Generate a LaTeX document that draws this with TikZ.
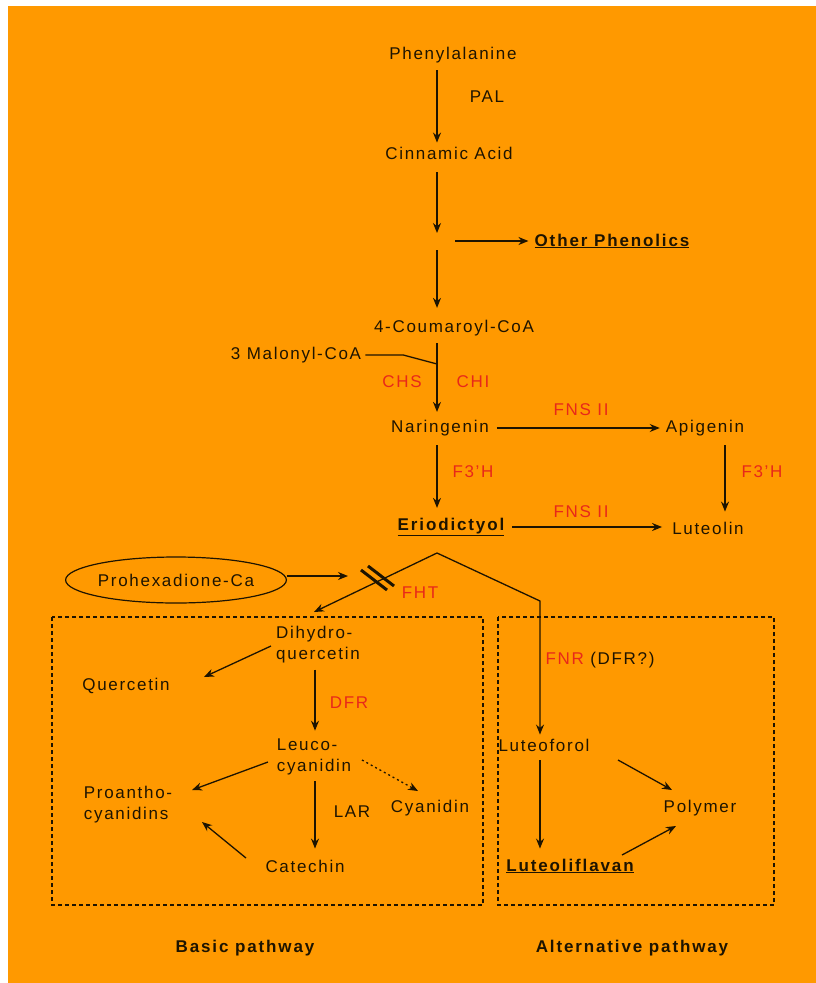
\documentclass[tikz,border=0pt]{standalone}
\usepackage{fontspec}
\setmainfont{Liberation Sans}[LetterSpace=10, BoldFeatures={LetterSpace=11}]
\usetikzlibrary{arrows.meta,shapes.geometric}
\definecolor{bgor}{HTML}{FF9900}
\definecolor{ink}{HTML}{1E1400}
\definecolor{enz}{HTML}{E8281A}
\tikzset{
  lbl/.style={font=\fontsize{17}{21}\selectfont, text=ink, inner sep=0pt},
  enzl/.style={font=\fontsize{17}{21}\selectfont, text=enz, inner sep=0pt},
  bld/.style={font=\fontsize{17}{21}\selectfont\bfseries, text=ink, inner sep=0pt},
  arr/.style={draw=ink, line width=1.3pt, -{Stealth[length=10pt,width=8pt]}},
  ln/.style={draw=ink, line width=1.3pt},
  dotarr/.style={draw=ink, line width=1.3pt, dash pattern=on 2pt off 3pt, -{Stealth[length=10pt,width=8pt]}},
  boxd/.style={draw=ink, line width=1.3pt, dash pattern=on 4pt off 3pt},
}
\begin{document}
\begin{tikzpicture}[x=1pt,y=-1pt]
\useasboundingbox (0,0) rectangle (816,983);
\fill[white] (0,0) rectangle (816,983);
\fill[bgor] (8,6) rectangle (816,983);
% axes
\coordinate (ax) at (437,0);
\coordinate (ax2) at (315,0);
\coordinate (ax3) at (540,0);
\coordinate (ax4) at (725,0);
% nodes
\node[lbl] (phe) at (453,55) {Phenylalanine};
\node[lbl] (pal) at (487,97) {PAL};
\node[lbl] (cin) at (449,153) {Cinnamic Acid};
\coordinate (junc) at (437,241);
\node[bld] (oth) at (612,241) {\underline{Other Phenolics}};
\node[lbl] (cou) at (454,328) {4-Coumaroyl-CoA};
\node[lbl] (mal) at (296,355) {3 Malonyl-CoA};
\node[enzl] (chs) at (402,382) {CHS};
\node[enzl] (chi) at (473,382) {CHI};
\node[lbl] (nar) at (440,428) {Naringenin};
\node[lbl] (api) at (705,428) {Apigenin};
\node[enzl] (fns1) at (581,410) {FNS II};
\node[enzl] (f3h1) at (473,472) {F3'H};
\node[enzl] (f3h2) at (762,472) {F3'H};
\node[bld] (eri) at (451,527) {\underline{Eriodictyol}};
\node[lbl] (lut) at (708,528) {Luteolin};
\node[enzl] (fns2) at (581,512) {FNS II};
\node[lbl, draw=ink, line width=1.2pt, ellipse, minimum width=210pt, minimum height=46pt] (pro) at (176,580) {Prohexadione-Ca};
\node[enzl] (fht) at (420,593) {FHT};
\node[lbl, align=left] (dhq) at (318,645) {Dihydro-\\quercetin};
\node[lbl] (quer) at (126,686) {Quercetin};
\node[enzl] (dfr) at (349,703) {DFR};
\node[lbl, align=left] (leu) at (314,757) {Leuco-\\cyanidin};
\node[lbl, align=left] (proa) at (128,805) {Proantho-\\cyanidins};
\node[lbl] (cya) at (430,808) {Cyanidin};
\node[lbl] (lar) at (352,812) {LAR};
\node[lbl] (cat) at (305,866) {Catechin};
\node[lbl] (fnr) at (600,660) {\textcolor{enz}{FNR} (DFR?)};
\node[lbl] (lfol) at (544,745) {Luteoforol};
\node[bld] (lfla) at (570,866) {\underline{Luteoliflavan}};
\node[lbl] (poly) at (700,808) {Polymer};
\node[bld] (basic) at (245,948) {Basic pathway};
\node[bld] (alt) at (632,948) {Alternative pathway};
% boxes
\draw[boxd] (52,617) rectangle (483,905);
\draw[boxd] (498,617) rectangle (774,905);
% main axis
\draw[arr] ([yshift=-7pt]phe.south -| ax) -- ([yshift=4pt]cin.north -| ax);
\draw[arr] ([yshift=-13pt]cin.south -| ax) -- ([yshift=8pt]junc);
\draw[arr] ([yshift=-9pt]junc) -- ([yshift=12pt]cou.north -| ax);
\draw[arr] ([xshift=18pt]junc) -- ([xshift=-6pt]oth.west);
\draw[arr] ([yshift=-7pt]cou.south -| ax) -- ([yshift=8pt]nar.north -| ax);
\draw[ln] ([xshift=4pt]mal.east) -- ++(38,0) -- (437,364);
\draw[arr] ([xshift=8pt]nar.east) -- ([xshift=-6pt]nar.east -| api.west);
\draw[arr] ([yshift=-9pt]nar.south -| ax) -- ([yshift=10pt]eri.north -| ax);
\draw[arr] ([yshift=-9pt]api.south -| ax4) -- ([yshift=10pt]lut.north -| ax4);
\draw[arr] ([xshift=8pt]eri.east) -- ([xshift=-10pt]eri.east -| lut.west);
% eriodictyol branches
\coordinate (etop) at ([shift={(-14,26)}]eri.center);
\draw[arr] (etop) -- ([shift={(-4,-33)}]dhq.center);
\draw[arr] (etop) -- (540,601) -- ([yshift=4pt]lfol.north -| ax3);
\coordinate (blk) at (348,576);
\draw[arr] ([yshift=4pt]pro.east) -- (blk);
% slashes
\coordinate (sl) at (380,580);
\draw[draw=ink, line width=3pt] ([shift={(-16,-12)}]sl) ++(-3,2) -- ++(26,20);
\draw[draw=ink, line width=3pt] ([shift={(-16,-12)}]sl) ++(4,-2) -- ++(26,20);
% basic pathway
\draw[arr] ([shift={(-47,1)}]dhq.center) -- ([shift={(78,-9)}]quer.center);
\draw[arr] ([yshift=-6pt]dhq.south -| ax2) -- ([yshift=8pt]leu.north -| ax2);
\draw[arr] ([shift={(-46,5)}]leu.center) -- ([shift={(64,-15)}]proa.center);
\draw[dotarr] ([shift={(48,3)}]leu.center) -- ([shift={(-12,-17)}]cya.center);
\draw[arr] ([yshift=-6pt]leu.south -| ax2) -- ([yshift=11pt]cat.north -| ax2);
\draw[arr] ([shift={(-59,-8)}]cat.center) -- ([shift={(74,17)}]proa.center);
% alternative pathway
\draw[arr] ([yshift=-9pt]lfol.south -| ax3) -- ([yshift=10pt]lfla.north -| ax3);
\draw[arr] ([shift={(74,15)}]lfol.center) -- ([shift={(-28,-18)}]poly.center);
\draw[arr] ([shift={(52,-11)}]lfla.center) -- ([shift={(-24,18)}]poly.center);
\end{tikzpicture}
\end{document}
